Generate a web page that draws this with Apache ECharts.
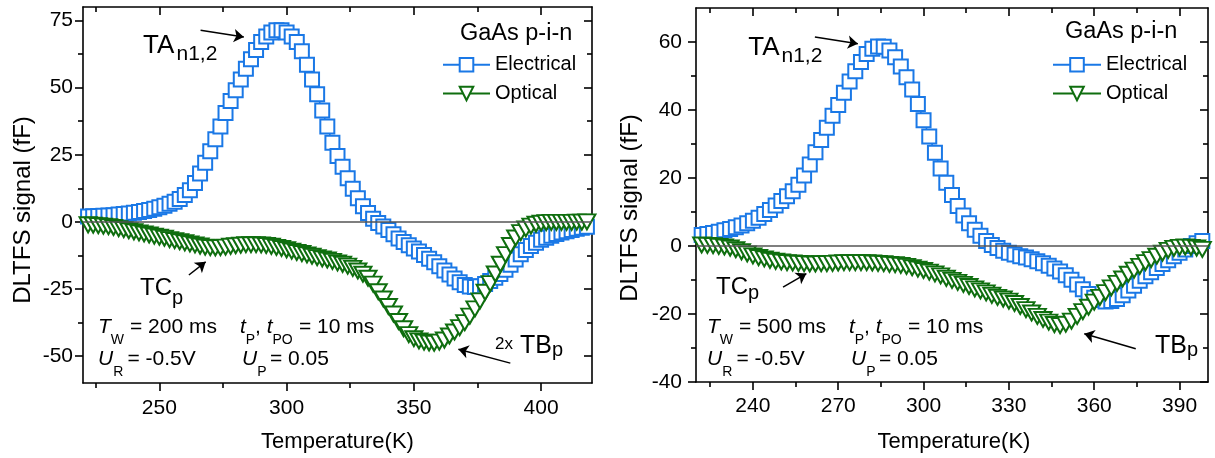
<!DOCTYPE html>
<html>
<head>
<meta charset="utf-8">
<script src="https://cdn.jsdelivr.net/npm/echarts@6/dist/echarts.min.js"></script>
<style>html,body{margin:0;padding:0;background:#fff;}#c{width:1215px;height:458px;}</style>
</head>
<body>
<div id="c"></div>
<script>
// ---------------- DATA ----------------
// Left panel (T_W = 200 ms): temperature (K)
const leftT = [222,224,226,228,230,232,234,236,238,240,242,244,246,248,250,252,254,256,258,260,
  262,264,266,268,270,272,274,276,278,280,282,284,286,288,290,292,294,296,298,300,
  302,304,306,308,310,312,314,316,318,320,322,324,326,328,330,332,334,336,338,340,
  342,344,346,348,350,352,354,356,358,360,362,364,366,368,370,372,374,376,378,380,
  382,384,386,388,390,392,394,396,398,400,402,404,406,408,410,412,414,416,418];
// Electrical DLTFS signal (fF)
const leftElecV = [2.0,2.1,2.2,2.3,2.4,2.5,2.7,2.9,3.1,3.4,3.7,4.0,4.4,4.9,5.4,6.0,6.7,7.5,8.5,10.0,
  11.8,14.5,18.0,22.0,26.3,30.8,35.5,40.5,45.0,49.0,53.0,57.0,60.5,64.0,67.0,69.0,70.5,71.3,71.3,70.5,
  69.0,67.0,63.5,58.5,53.0,47.5,41.5,35.5,29.5,24.5,20.5,16.2,12.3,8.8,5.8,3.3,1.2,-0.4,-1.7,-3.0,
  -4.6,-6.2,-7.5,-8.7,-9.9,-11.0,-12.3,-13.7,-15.0,-16.5,-18.1,-19.6,-21.1,-22.5,-23.5,-24.1,-24.3,-24.0,-23.1,-22.0,
  -20.8,-19.4,-17.8,-16.0,-14.0,-12.1,-10.5,-9.0,-7.8,-6.7,-5.9,-5.2,-4.5,-4.0,-3.5,-3.0,-2.6,-2.2,-1.8];
// Optical DLTFS signal x2 (fF)
const leftOptV = [-1.1,-1.2,-1.4,-1.6,-1.8,-2.1,-2.5,-2.9,-3.3,-3.7,-4.1,-4.5,-4.9,-5.3,-5.7,-6.1,-6.6,-7.0,-7.4,-7.8,
  -8.2,-8.6,-9.0,-9.4,-9.6,-9.7,-9.6,-9.4,-9.1,-8.9,-8.7,-8.5,-8.5,-8.5,-8.6,-8.8,-9.1,-9.5,-9.9,-10.4,
  -10.9,-11.4,-11.8,-12.3,-12.8,-13.3,-13.8,-14.2,-14.7,-15.3,-15.8,-16.5,-17.3,-18.3,-19.5,-21.0,-23.2,-26.0,-28.7,-31.5,
  -34.3,-37.1,-39.8,-42.0,-43.5,-44.3,-44.8,-45.1,-45.2,-44.8,-44.0,-42.5,-41.0,-39.4,-37.5,-35.1,-32.4,-29.4,-26.2,-23.0,
  -19.4,-15.8,-12.2,-8.8,-6.0,-4.0,-2.6,-1.6,-0.9,-0.5,-0.3,-0.2,-0.2,-0.2,-0.2,-0.2,-0.1,-0.1,0.0];

// Right panel (T_W = 500 ms): temperature (K)
const rightT = [222,224,226,228,230,232,234,236,238,240,242,244,246,248,250,252,254,256,258,260,
  262,264,266,268,270,272,274,276,278,280,282,284,286,288,290,292,294,296,298,300,
  302,304,306,308,310,312,314,316,318,320,322,324,326,328,330,332,334,336,338,340,
  342,344,346,348,350,352,354,356,358,360,362,364,366,368,370,372,374,376,378,380,
  382,384,386,388,390,392,394,396,398];
const rightElecV = [3.2,3.5,3.8,4.2,4.6,5.0,5.5,6.0,6.7,7.4,8.3,9.4,10.6,11.9,13.2,14.6,16.1,18.0,20.7,24.0,
  27.6,31.2,34.8,38.3,41.5,45.1,48.4,51.4,54.1,56.5,58.0,58.7,58.6,57.5,55.5,52.8,49.6,46.0,41.8,37.0,
  32.2,27.4,22.8,18.6,15.0,11.8,9.0,6.7,4.8,3.0,1.5,0.3,-0.6,-1.4,-2.0,-2.5,-3.0,-3.4,-3.9,-4.5,
  -5.1,-5.8,-6.6,-7.5,-8.6,-9.9,-11.3,-12.7,-14.1,-15.2,-15.9,-16.3,-16.2,-15.6,-14.5,-13.1,-11.7,-10.2,-8.9,-7.7,
  -6.5,-5.3,-4.2,-3.0,-2.0,-1.0,0.0,0.8,1.5];
const rightOptV = [0.3,0.2,0.1,-0.1,-0.3,-0.6,-1.1,-1.7,-2.3,-2.9,-3.4,-3.8,-4.2,-4.5,-4.7,-4.9,-5.0,-5.1,-5.2,-5.3,
  -5.3,-5.2,-5.2,-5.1,-5.0,-4.9,-4.9,-4.9,-4.9,-4.9,-5.0,-5.1,-5.2,-5.4,-5.5,-5.7,-6.0,-6.4,-6.8,-7.2,
  -7.7,-8.2,-8.8,-9.5,-10.1,-10.7,-11.3,-11.9,-12.6,-13.2,-13.8,-14.5,-15.1,-15.6,-16.2,-16.9,-17.8,-18.7,-19.7,-20.7,
  -21.6,-22.4,-23.1,-23.4,-23.0,-22.1,-20.7,-19.3,-18.0,-16.5,-15.1,-13.7,-12.3,-11.0,-9.7,-8.3,-7.1,-6.0,-4.9,-4.0,
  -3.0,-2.1,-1.3,-0.7,-0.4,-0.3,-0.4,-0.6,-1.0];

// Tick values
const leftXMajor = [250,300,350,400];
const leftXMinor = [225,275,325,375];
const leftYMajor = [-50,-25,0,25,50,75];
const leftYMinor = [-37.5,-12.5,12.5,37.5,62.5];
const rightXMajor = [240,270,300,330,360,390];
const rightXMinor = [225,255,285,315,345,375];
const rightYMajor = [-40,-20,0,20,40,60];
const rightYMinor = [-30,-10,10,30,50];

// Annotation arrows [fromT, fromV, toT, toV]
const leftArrows = [[266.2,71.3,283.2,68.8],[261.6,-19.8,268.2,-14.9],[387.9,-52.6,367.5,-47.4]];
const rightArrows = [[261.8,61.5,276.9,59.5],[250.6,-12.1,258.8,-8.1],[374.6,-30.2,356.5,-25.8]];

// ---------------- CHART ----------------
const FONT = '"Liberation Sans", Arial, sans-serif';
const BLUE = '#1a78e6';
const GREEN = '#0f6e0f';
const zip = (a, b) => a.map((v, i) => [v, b[i]]);
const AX = {color:'#000', width:1.6};

function xAxes(grid, min, max, major, minor, labelMargin) {
  const base = {type:'value', gridIndex:grid, min, max, splitLine:{show:false}, axisLine:{show:true, onZero:false, lineStyle:AX}};
  return [
    Object.assign({}, base, {position:'bottom', axisTick:{show:true, inside:false, length:8, customValues:major, lineStyle:AX},
      axisLabel:{show:true, customValues:major, margin:labelMargin, color:'#000', fontSize:21, fontFamily:FONT}}),
    Object.assign({}, base, {position:'bottom', axisLine:{show:false, onZero:false}, axisTick:{show:true, inside:false, length:5, customValues:minor, lineStyle:AX}, axisLabel:{show:false}}),
    Object.assign({}, base, {position:'top', axisTick:{show:true, inside:true, length:8, customValues:major, lineStyle:AX}, axisLabel:{show:false}}),
    Object.assign({}, base, {position:'top', axisLine:{show:false, onZero:false}, axisTick:{show:true, inside:true, length:5, customValues:minor, lineStyle:AX}, axisLabel:{show:false}})
  ];
}
function yAxes(grid, min, max, major, minor, labelMargin) {
  const base = {type:'value', gridIndex:grid, min, max, splitLine:{show:false}, axisLine:{show:true, onZero:false, lineStyle:AX}};
  return [
    Object.assign({}, base, {position:'left', axisTick:{show:true, inside:false, length:8, customValues:major, lineStyle:AX},
      axisLabel:{show:true, customValues:major, margin:labelMargin, color:'#000', fontSize:21, fontFamily:FONT}}),
    Object.assign({}, base, {position:'left', axisLine:{show:false, onZero:false}, axisTick:{show:true, inside:false, length:5, customValues:minor, lineStyle:AX}, axisLabel:{show:false}}),
    Object.assign({}, base, {position:'right', axisTick:{show:true, inside:true, length:8, customValues:major, lineStyle:AX}, axisLabel:{show:false}}),
    Object.assign({}, base, {position:'right', axisLine:{show:false, onZero:false}, axisTick:{show:true, inside:true, length:5, customValues:minor, lineStyle:AX}, axisLabel:{show:false}})
  ];
}

function elecSeries(xi, yi, T, V) {
  return {type:'line', name:'Electrical', xAxisIndex:xi, yAxisIndex:yi, data:zip(T, V),
    symbol:'emptyRect', symbolSize:14, showAllSymbol:true, animation:false,
    lineStyle:{color:BLUE, width:1.5}, itemStyle:{color:BLUE, borderWidth:2},
    emphasis:{disabled:true},
    markLine:{silent:true, animation:false, symbol:'none', label:{show:false},
      lineStyle:{color:'#555', width:1.5, type:'solid'}, data:[{yAxis:0}]}};
}
function optSeries(xi, yi, T, V, arrows) {
  return {type:'line', name:'Optical', xAxisIndex:xi, yAxisIndex:yi, data:zip(T, V),
    symbol:'emptyTriangle', symbolRotate:180, symbolSize:[17,15], showAllSymbol:true, animation:false,
    lineStyle:{color:GREEN, width:1.5}, itemStyle:{color:GREEN, borderWidth:2},
    emphasis:{disabled:true},
    markLine:{silent:true, animation:false, symbol:['none','arrow'], symbolSize:10, label:{show:false},
      lineStyle:{color:'#000', width:1.5, type:'solid'},
      data: arrows.map(a => [{coord:[a[0], a[1]]}, {coord:[a[2], a[3]]}])}};
}

function txt(x, y, s, size, italic, extra) {
  return Object.assign({type:'text', x, y, silent:true,
    style:{text:s, font:(italic ? 'italic ' : '') + size + 'px ' + FONT, fill:'#000', textAlign:'left', textVerticalAlign:'middle'}}, extra || {});
}
function params(dx, tw) {
  const r1 = 335, r2 = 366.7;
  const m = 21 * 0.35, s = 5.1;
  return [
    txt(98+dx, r1-m, 'T', 21, true), txt(110.8+dx, r1+s, 'W', 14), txt(130+dx, r1-m, '= ' + tw, 21),
    txt(240+dx, r1-m, 't', 21, true), txt(245.8+dx, r1+s, 'P', 14), txt(255.1+dx, r1-m, ',', 21),
    txt(266.7+dx, r1-m, 't', 21, true), txt(272.5+dx, r1+s, 'PO', 14), txt(299+dx, r1-m, '= 10 ms', 21),
    txt(98+dx, r2-m, 'U', 21, true), txt(113.2+dx, r2+s, 'R', 14), txt(127.5+dx, r2-m, '= -0.5V', 21),
    txt(242+dx, r2-m, 'U', 21, true), txt(257.2+dx, r2+s, 'P', 14), txt(270+dx, r2-m, '= 0.05', 21)
  ];
}
function centered(x, y, s, size, rot) {
  return {type:'text', x, y, rotation: rot || 0, silent:true,
    style:{text:s, font:size + 'px ' + FONT, fill:'#000', textAlign:'center', textVerticalAlign:'middle'}};
}

const graphics = [].concat(
  [
    txt(143, 45.9, 'TA', 26), txt(176.5, 54.3, 'n1,2', 21),
    txt(140, 288.3, 'TC', 24), txt(172, 298, 'p', 20),
    txt(495, 344.7, '2x', 17), txt(520, 346.2, 'TB', 25), txt(552, 350, 'p', 20),
    txt(460, 33.5, 'GaAs p-i-n', 23.5),
    txt(748.3, 47.6, 'TA', 26), txt(781.5, 56, 'n1,2', 21),
    txt(716, 287.6, 'TC', 24), txt(748, 293, 'p', 20),
    txt(1155, 346.2, 'TB', 25), txt(1187, 350, 'p', 20),
    txt(1065, 31.8, 'GaAs p-i-n', 23.5),
    centered(23.3, 210, 'DLTFS signal (fF)', 24, Math.PI/2),
    centered(630, 208, 'DLTFS signal (fF)', 24, Math.PI/2),
    centered(337.5, 442.3, 'Temperature(K)', 22),
    centered(954, 442.3, 'Temperature(K)', 22)
  ],
  params(0, '200 ms'),
  params(609, '500 ms')
);

const legendBase = {orient:'vertical', itemWidth:47, itemHeight:17, itemGap:8.7, padding:0, selectedMode:false,
  data:['Electrical','Optical'], textStyle:{fontSize:20, color:'#000', fontFamily:FONT}};

const option = {
  animation:false,
  backgroundColor:'#fff',
  textStyle:{fontFamily:FONT},
  grid:[
    {left:83, top:7, width:509, height:376, outerBoundsMode:'none'},
    {left:696, top:8, width:512, height:374, outerBoundsMode:'none'}
  ],
  xAxis: [].concat(xAxes(0, 220, 420, leftXMajor, leftXMinor, 15), xAxes(1, 220, 400, rightXMajor, rightXMinor, 14)),
  yAxis: [].concat(yAxes(0, -60, 80, leftYMajor, leftYMinor, 10), yAxes(1, -40, 70, rightYMajor, rightYMinor, 14)),
  legend:[
    Object.assign({}, legendBase, {left:442, top:54.8}),
    Object.assign({}, legendBase, {left:1052, top:54.8, itemWidth:48})
  ],
  series:[
    elecSeries(0, 0, leftT, leftElecV),
    optSeries(0, 0, leftT, leftOptV, leftArrows),
    elecSeries(4, 4, rightT, rightElecV),
    optSeries(4, 4, rightT, rightOptV, rightArrows)
  ],
  graphic: graphics
};

const chart = echarts.init(document.getElementById('c'), null, {renderer:'canvas'});
chart.setOption(option);
</script>
</body>
</html>
